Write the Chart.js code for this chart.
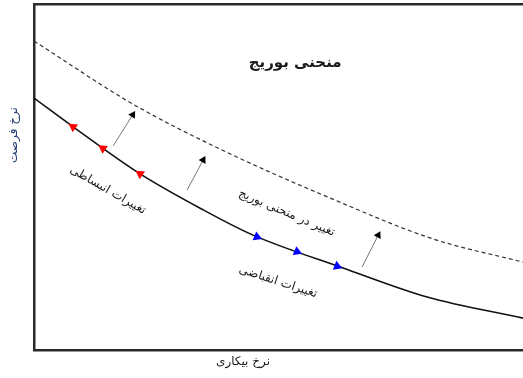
<!DOCTYPE html>
<html>
<head>
<meta charset="utf-8">
<script src="https://cdn.jsdelivr.net/npm/chart.js@4"></script>
<style>
  html, body { margin: 0; padding: 0; background: #fff; }
  canvas { display: block; }
</style>
</head>
<body>
<canvas id="chart" width="523" height="378"></canvas>
<script>
// Beveridge curve (0-100 on both axes)
const solidX = [0, 8.0, 21.7, 34.6, 44.8, 63.2, 80.4, 100];
const solidY = [72.8, 64.5, 50.9, 40.5, 33.2, 23.7, 15.3, 9.2];

// shifted curve (dashed)
const dashedX = [0, 20.2, 38.0, 61.1, 81.6, 100];
const dashedY = [89.3, 71.1, 58.1, 43.6, 32.1, 25.4];

// red arrowheads (expansion) and blue arrowheads (contraction) on the curve
const expandX = [8.0, 14.1, 21.7];
const expandY = [64.5, 58.3, 50.9];
const contractX = [45.6, 53.8, 62.0];
const contractY = [32.7, 28.4, 24.2];

// grey shift arrows
const shiftFromX = [16.2, 31.3, 67.1];
const shiftFromY = [59.0, 46.2, 24.0];
const shiftToX = [20.2, 34.6, 70.4];
const shiftToY = [68.0, 54.9, 33.2];

// text in the plot
const noteText = ["منحنی بوریج", "تغییرات انبساطی", "تغییر در منحنی بوریج", "تغییرات انقباضی"];
const noteX = [53.4, 15.1, 51.7, 49.9];
const noteY = [82.9, 46.2, 39.6, 19.7];

const xTitle = "نرخ بیکاری";
const yTitle = "نرخ فرصت";

const FONT = "'DejaVu Sans', sans-serif";
const noteStyle = [
  { font: "bold 15px " + FONT, angle: 0 },
  { font: "12px " + FONT, angle: 30 },
  { font: "12px " + FONT, angle: 23 },
  { font: "12px " + FONT, angle: 18 }
];

const pts = (xs, ys) => xs.map((x, i) => ({ x, y: ys[i] }));

// lower order = drawn on top
const datasets = [
  {
    data: pts(dashedX, dashedY),
    borderColor: "#333",
    borderWidth: 1.2,
    borderDash: [4, 3],
    pointRadius: 0,
    cubicInterpolationMode: "monotone",
    order: 3
  },
  {
    data: pts(solidX, solidY),
    borderColor: "#111",
    borderWidth: 1.6,
    pointRadius: 0,
    cubicInterpolationMode: "monotone",
    order: 3
  },
  {
    data: pts(expandX, expandY),
    showLine: false,
    pointStyle: "triangle",
    pointRadius: 5.5,
    pointRotation: -55,
    pointBackgroundColor: "#ff0000",
    pointBorderWidth: 0,
    order: 1
  },
  {
    data: pts(contractX, contractY),
    showLine: false,
    pointStyle: "triangle",
    pointRadius: 5.5,
    pointRotation: 112,
    pointBackgroundColor: "#0000ff",
    pointBorderWidth: 0,
    order: 1
  }
];

const arrowRot = [32, 29, 28];
shiftFromX.forEach((x, i) => {
  datasets.push({
    data: [{ x, y: shiftFromY[i] }, { x: shiftToX[i], y: shiftToY[i] }],
    borderColor: "#777",
    borderWidth: 1,
    pointStyle: "triangle",
    pointRadius: [0, 4.5],
    pointRotation: arrowRot[i],
    pointBackgroundColor: "#000",
    pointBorderWidth: 0,
    order: 2
  });
});

// draws the texts in data coordinates plus the axis names
const textPlugin = {
  id: "texts",
  afterDatasetsDraw(chart) {
    const { ctx, chartArea, scales } = chart;
    ctx.save();
    ctx.textAlign = "center";
    ctx.textBaseline = "middle";
    noteText.forEach((t, i) => {
      const px = scales.x.getPixelForValue(noteX[i]);
      const py = scales.y.getPixelForValue(noteY[i]);
      ctx.save();
      ctx.translate(px, py);
      ctx.rotate(noteStyle[i].angle * Math.PI / 180);
      ctx.font = noteStyle[i].font;
      ctx.fillStyle = "#1a1a1a";
      ctx.fillText(t, 0, 0);
      ctx.restore();
    });

    // axis names
    ctx.font = "12px " + FONT;
    ctx.fillStyle = "#1a1a1a";
    ctx.fillText(xTitle, chartArea.left + 209, chartArea.bottom + 12);

    ctx.save();
    ctx.translate(chartArea.left - 20, chartArea.top + 131);
    ctx.rotate(-Math.PI / 2);
    ctx.fillStyle = "#1f3a70";
    ctx.fillText(yTitle, 0, 0);
    ctx.restore();
    ctx.restore();
  }
};

const frame = { display: true, color: "#2a2a2a", width: 2.5 };

new Chart(document.getElementById("chart"), {
  type: "line",
  data: { datasets },
  options: {
    responsive: false,
    devicePixelRatio: 1,
    animation: false,
    layout: { padding: 0, autoPadding: false },
    plugins: { legend: { display: false }, tooltip: { enabled: false } },
    scales: {
      x: {
        type: "linear", position: "bottom", min: 0, max: 100,
        grid: { display: false }, ticks: { display: false }, border: frame,
        afterFit: s => { s.height = 28; }
      },
      top: {
        type: "linear", axis: "x", position: "top", min: 0, max: 100,
        grid: { display: false }, ticks: { display: false }, border: frame,
        afterFit: s => { s.height = 4; }
      },
      y: {
        type: "linear", position: "left", min: 0, max: 100,
        grid: { display: false }, ticks: { display: false }, border: frame,
        afterFit: s => { s.width = 34; }
      }
    }
  },
  plugins: [textPlugin]
});
</script>
</body>
</html>
